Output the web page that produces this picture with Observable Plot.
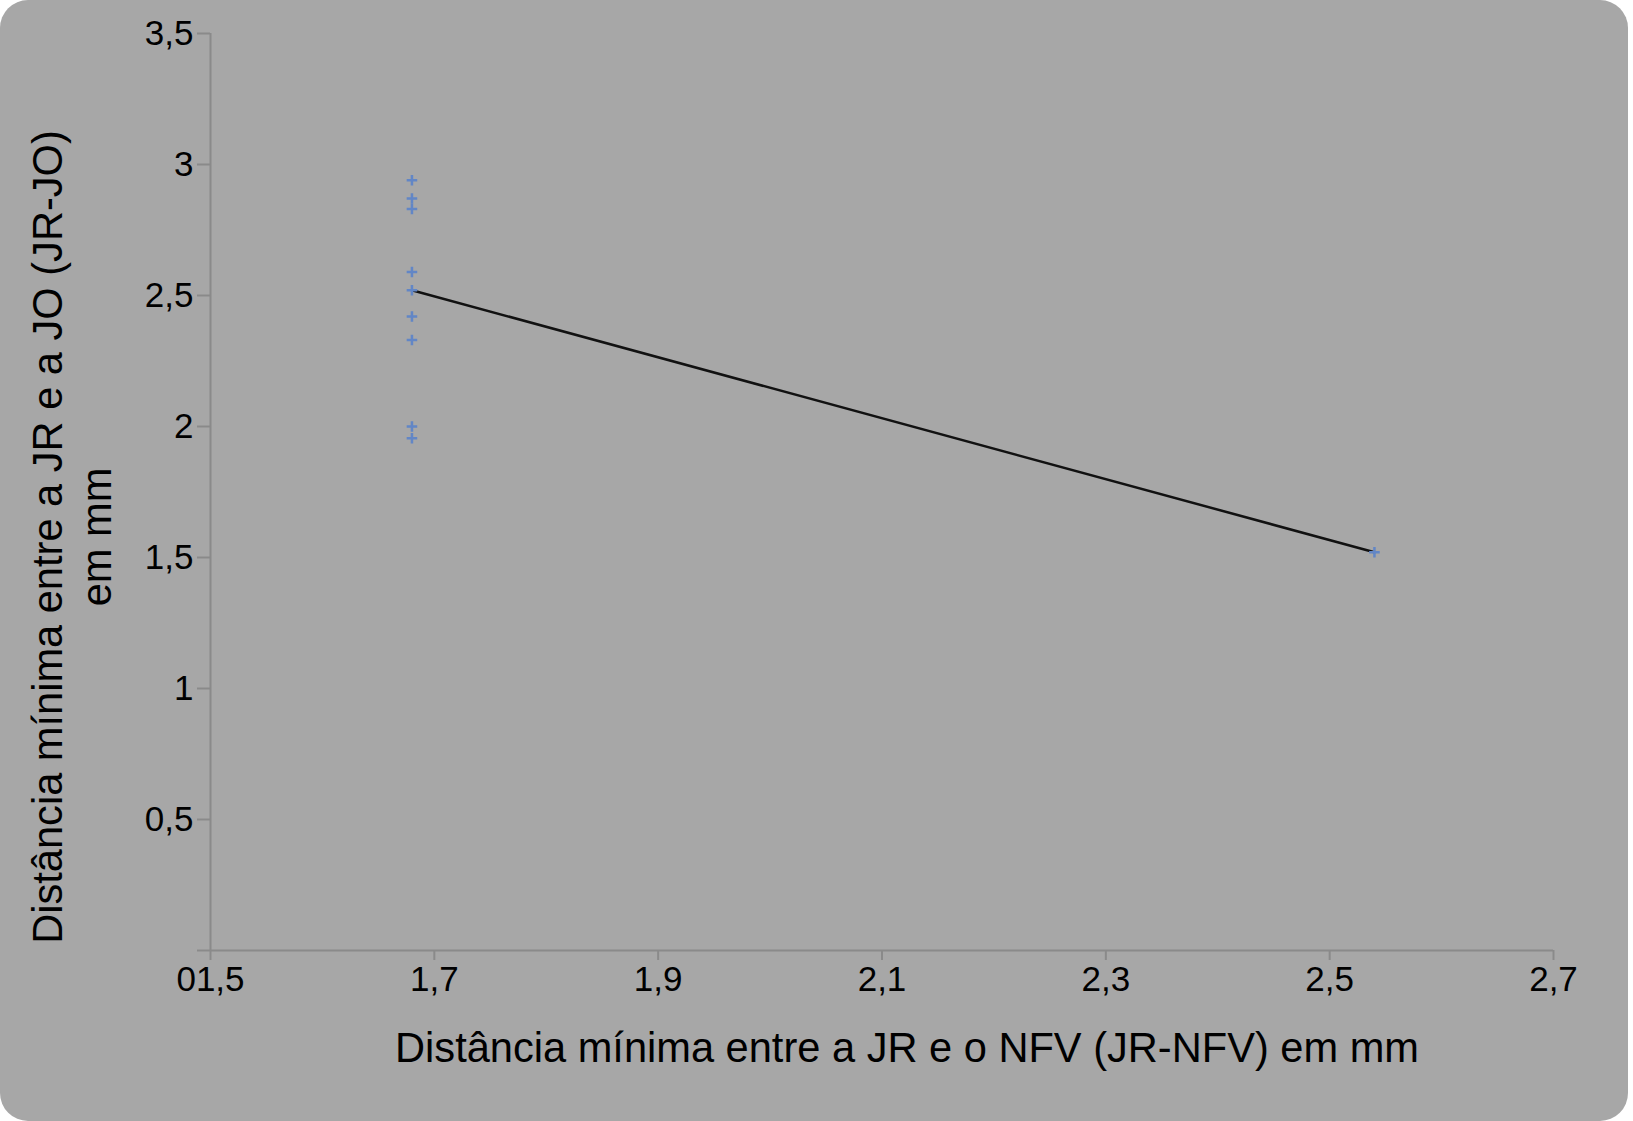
<!DOCTYPE html>
<html>
<head>
<meta charset="utf-8">
<script src="https://cdn.jsdelivr.net/npm/d3@7"></script>
<script src="https://cdn.jsdelivr.net/npm/@observablehq/plot@0.6"></script>
<style>
  html, body { margin: 0; padding: 0; background: #ffffff; }
  #chart { width: 1628px; height: 1121px; background: #a7a7a7; border-radius: 28px; overflow: hidden; }
  #chart svg { display: block; }
</style>
</head>
<body>
<div id="chart"></div>
<script>
// Scatter points (JR-NFV, JR-JO) in mm
const pointX = [1.68, 1.68, 1.68, 1.68, 1.68, 1.68, 1.68, 1.68, 1.68, 2.54];
const pointY = [2.94, 2.87, 2.83, 2.59, 2.52, 2.42, 2.33, 2.00, 1.955, 1.52];

// Trend line endpoints
const lineX = [1.68, 2.54];
const lineY = [2.52, 1.52];

// Axis ticks and labels
const xTicks = [1.5, 1.7, 1.9, 2.1, 2.3, 2.5, 2.7];
const xTickLabels = ["01,5", "1,7", "1,9", "2,1", "2,3", "2,5", "2,7"];
const yTicks = [0, 0.5, 1, 1.5, 2, 2.5, 3, 3.5];
const yTickLabels = ["", "0,5", "1", "1,5", "2", "2,5", "3", "3,5"];

const xTitle = "Distância mínima entre a JR e o NFV (JR-NFV) em mm";
const yTitle = ["Distância mínima entre a JR e a JO (JR-JO)", "em mm"];

const points = pointX.map((x, i) => ({x, y: pointY[i]}));
const line = lineX.map((x, i) => ({x, y: lineY[i]}));

const font = "'Liberation Sans', Arial, Helvetica, sans-serif";
const axisGray = "#8a8a8a";

const chart = Plot.plot({
  width: 1628,
  height: 1121,
  marginLeft: 210,
  marginRight: 75,
  marginTop: 33,
  marginBottom: 171,
  style: {background: "transparent", fontFamily: font, fontSize: "35px", color: "#000"},
  x: {domain: [1.5, 2.7]},
  y: {domain: [0, 3.5]},
  marks: [
    Plot.ruleX([1.5], {stroke: axisGray, strokeWidth: 2}),
    Plot.ruleY([0], {stroke: axisGray, strokeWidth: 2}),
    Plot.axisY({ticks: yTicks, tickFormat: (d, i) => yTickLabels[i], tickSize: 13, tickPadding: 4,
      stroke: axisGray, strokeWidth: 2, fill: "#000", label: null, fontSize: 35}),
    Plot.axisX({ticks: xTicks, tickFormat: (d, i) => xTickLabels[i], tickSize: 10, tickPadding: 6,
      stroke: axisGray, strokeWidth: 2, fill: "#000", label: null, fontSize: 35}),
    Plot.line(line, {x: "x", y: "y", stroke: "#111", strokeWidth: 2.5}),
    Plot.dot(points, {x: "x", y: "y", symbol: "plus", r: 3.5, stroke: "#6286c6", strokeWidth: 2.5}),
    Plot.text([xTitle], {text: d => d, frameAnchor: "bottom", dx: 25, dy: 111, fontSize: 41.6, fill: "#000"}),
    Plot.text([yTitle.join("\n")], {text: d => d, frameAnchor: "left", rotate: -90, dx: -140, dy: 45,
      fontSize: 41.6, lineHeight: 1.2, fill: "#000", textAnchor: "middle"})
  ]
});
document.getElementById("chart").appendChild(chart);
</script>
</body>
</html>
